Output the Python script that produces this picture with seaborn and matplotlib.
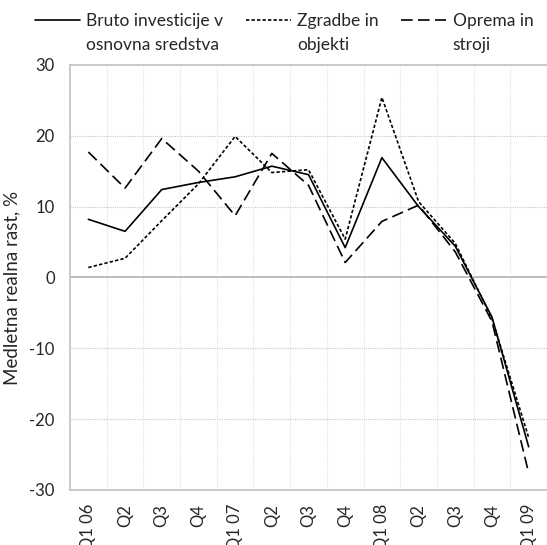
import pandas as pd
import seaborn as sns
import matplotlib.pyplot as plt
import numpy as np

quarters = ['Q1 06', 'Q2', 'Q3', 'Q4', 'Q1 07', 'Q2', 'Q3', 'Q4',
            'Q1 08', 'Q2', 'Q3', 'Q4', 'Q1 09']
bruto = [8.2, 6.5, 12.4, 13.4, 14.2, 15.7, 14.5, 4.2, 16.9, 10.0, 4.4, -5.6, -23.9]
zgradbe = [1.4, 2.7, 8.0, 13.2, 19.9, 14.8, 15.2, 5.4, 25.4, 10.7, 4.8, -5.8, -22.6]
oprema = [17.7, 12.6, 19.6, 15.0, 8.7, 17.5, 13.0, 2.1, 7.9, 10.2, 3.6, -6.2, -27.6]

names = ['Bruto investicije v\nosnovna sredstva', 'Zgradbe in\nobjekti', 'Oprema in\nstroji']

rows = []
for name, vals in zip(names, [bruto, zgradbe, oprema]):
    for i, v in enumerate(vals):
        rows.append({'idx': i, 'value': v, 'serija': name})
df = pd.DataFrame(rows)

sns.set_theme(style="white")
plt.rcParams['font.family'] = ['Lato', 'DejaVu Sans']
plt.rcParams['axes.unicode_minus'] = False

fig = plt.figure(figsize=(5.47, 5.45), dpi=100)
ax = fig.add_axes([0.128, 0.101, 0.872, 0.780])

sns.lineplot(data=df, x='idx', y='value', style='serija', color='black',
             dashes={names[0]: '', names[1]: (2.0, 1.3), names[2]: (7, 3.2)},
             linewidth=1.2, ax=ax, legend=True)

ax.set_xlim(-0.5, len(quarters) - 0.5)
ax.set_ylim(-30, 30)
ax.set_yticks(np.arange(-30, 31, 10))
ax.set_xticks(range(len(quarters)))
ax.set_xticklabels(quarters, rotation=90, fontsize=12)
ax.tick_params(axis='y', labelsize=12, length=0, pad=11)
ax.tick_params(axis='x', length=0, pad=10)
ax.set_xlabel('')
ax.set_ylabel('Medletna realna rast, %', fontsize=13.5)
ax.yaxis.set_label_coords(-0.105, 0.475)

# mreža
for yv in [-20, -10, 10, 20]:
    ax.axhline(yv, color='#c8c8c8', lw=0.8, ls=(0, (1, 1)), zorder=0)
for xv in np.arange(0.5, len(quarters) - 0.5, 1):
    ax.axvline(xv, color='#e2e2e2', lw=0.8, ls=(0, (1, 1)), zorder=0)
ax.axhline(0, color='#b8b8b8', lw=1.3, zorder=1)

for s in ['left', 'bottom', 'top']:
    ax.spines[s].set_color('#c0c0c0')
    ax.spines[s].set_linewidth(1.2)
ax.spines['right'].set_visible(False)

handles, labels = ax.get_legend_handles_labels()
ax.legend_.remove()
leg = fig.legend(handles, labels, loc='upper left', bbox_to_anchor=(0.045, 0.995),
                 ncol=3, frameon=False, fontsize=12.5, handlelength=2.6,
                 handletextpad=0.35, columnspacing=1.3, borderaxespad=0.2)
for t in leg.get_texts():
    t.set_linespacing(1.6)
for h in leg.legend_handles:
    y = h.get_ydata()
    h.set_ydata([v + 9.4 for v in y])

fig.savefig('out.png', dpi=100)
